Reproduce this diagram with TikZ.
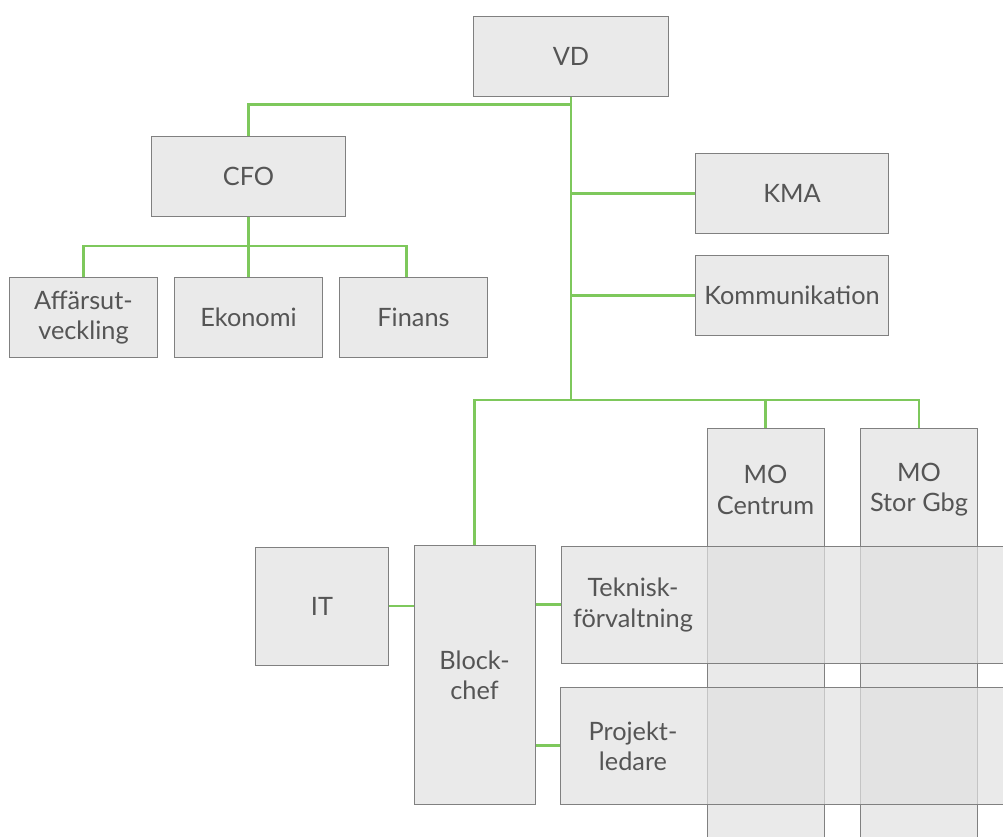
\documentclass[tikz,border=0pt]{standalone}
\usepackage{fontspec}
\setmainfont{Lato}
\definecolor{boxfill}{RGB}{234,234,234}
\definecolor{matfill}{RGB}{225,225,225}
\definecolor{boxline}{RGB}{128,128,128}
\definecolor{textgray}{RGB}{85,85,85}
\definecolor{linkgreen}{RGB}{126,200,92}
\tikzset{
  unit/.style={draw=boxline, line width=0.7pt, fill=boxfill, text=textgray,
    align=center, inner sep=0pt, font=\fontsize{18}{21.5}\selectfont},
  matrow/.style={unit, fill=matfill, fill opacity=0.7, text opacity=1},
  label text/.style={text=textgray, align=center, font=\fontsize{18}{21.5}\selectfont},
  link/.style={draw=linkgreen, line width=2pt}
}
\begin{document}
\begin{tikzpicture}[x=0.025cm, y=-0.025cm]
\useasboundingbox (0,0) rectangle (1003,836);
% Top of the tree
\node[unit, minimum width=4.85cm, minimum height=2cm] (vd) at (571,56) {VD};
\node[unit, minimum width=4.825cm, minimum height=2cm] (cfo) at (248.5,176) {CFO};
\node[unit, minimum width=4.8cm, minimum height=2cm] (kma) at (792,193.5) {KMA};
\node[unit, minimum width=4.8cm, minimum height=2cm] (komm) at (792,295.5) {Kommunikation};
% Units under the CFO
\node[unit, minimum width=3.675cm, minimum height=2cm] (aff) at (83.5,317.5) {Affärsut-\\veckling};
\node[unit, minimum width=3.675cm, minimum height=2cm] (eko) at (248.5,317.5) {Ekonomi};
\node[unit, minimum width=3.675cm, minimum height=2cm] (fin) at (413.5,317.5) {Finans};
% Lower part
\node[unit, minimum width=3.3cm, minimum height=2.95cm] (it) at (322,606) {IT};
\node[unit, minimum width=3.025cm, minimum height=6.45cm] (blk) at (474.5,675) {Block-\\chef};
% Columns of the matrix, running off the bottom
\node[unit, anchor=north, minimum width=2.925cm, minimum height=10.6cm] (moc) at (765.5,428) {};
\node[unit, anchor=north, minimum width=2.925cm, minimum height=10.6cm] (mos) at (919,428) {};
\node[label text] (moclbl) at (765.5,490) {MO\\Centrum};
\node[label text] (moslbl) at (919,490) {MO\\Stor Gbg};
% Rows of the matrix, drawn over the columns
\node[matrow, anchor=west, minimum width=11.5cm, minimum height=2.925cm] (tek) at (561,604.5) {};
\node[matrow, anchor=west, minimum width=11.5cm, minimum height=2.925cm] (proj) at (560,745.5) {};
\node[label text] (teklbl) at (633,605) {Teknisk-\\förvaltning};
\node[label text] (projlbl) at (633,746) {Projekt-\\ledare};
% Green connectors
\coordinate (hub) at (571,400);
\draw[link] (vd.south) -- (hub);
\draw[link] (cfo.north) -- ++(0,-31) -| (vd.south);
\draw[link] (kma.west) -- (kma.west -| vd.south);
\draw[link] (komm.west) -- (komm.west -| vd.south);
\draw[link] (cfo.south) -- (eko.north);
\draw[link] (aff.north) -- ++(0,-31) -| ([xshift=-0.175cm]fin.north);
\draw[link] (blk.north) |- (hub) -| (mos.north);
\draw[link] (moc.north) -- (moc.north |- hub);
\draw[link] (it.east) -- (it.east -| blk.west);
\draw[link] (tek.west) -- (tek.west -| blk.east);
\draw[link] (proj.west) -- (proj.west -| blk.east);
\end{tikzpicture}
\end{document}
